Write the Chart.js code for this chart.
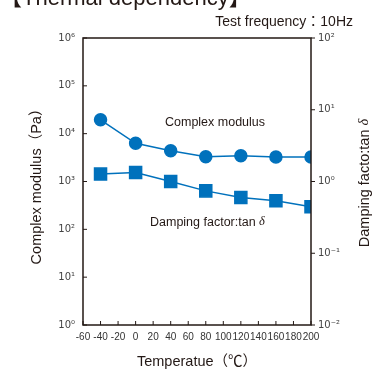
<!DOCTYPE html>
<html>
<head>
<meta charset="utf-8">
<script src="https://cdn.jsdelivr.net/npm/chart.js@4.4.1/dist/chart.umd.min.js"></script>
<style>
  html, body { margin:0; padding:0; background:#fff; }
  #wrap { width:374px; height:372px; }
</style>
</head>
<body>
<div id="wrap"><canvas id="c"></canvas></div>
<script>
// Temperature (°C)
const temps = [-40, 0, 40, 80, 120, 160, 200];
// Complex modulus (Pa), left axis
const modulus = [19500, 6300, 4400, 3300, 3450, 3250, 3250];
// Damping factor tan δ, right axis
const tanDelta = [1.27, 1.33, 1.0, 0.74, 0.60, 0.54, 0.445];

const xTicks = [-60, -40, -20, 0, 20, 40, 60, 80, 100, 120, 140, 160, 180, 200];
const leftTicks = [1, 10, 100, 1e3, 1e4, 1e5, 1e6];
const rightTicks = [0.01, 0.1, 1, 10, 100];

const BLUE = '#0071bc';
const INK = '#231815';
const SUP = {'0':'⁰','1':'¹','2':'²','3':'³','4':'⁴','5':'⁵','6':'⁶','-':'⁻'};
const pow10 = v => '10' + String(Math.round(Math.log10(v))).split('').map(c => SUP[c]).join('');

// frame, tick marks and free text
const decor = {
  id: 'decor',
  afterDraw(chart) {
    const { ctx, chartArea: a, scales } = chart;
    ctx.save();
    ctx.strokeStyle = INK;
    ctx.lineWidth = 1.5;
    ctx.strokeRect(a.left, a.top, a.right - a.left, a.bottom - a.top);
    ctx.lineWidth = 1;
    ctx.beginPath();
    xTicks.forEach(t => { const x = scales.x.getPixelForValue(t); ctx.moveTo(x, a.bottom); ctx.lineTo(x, a.bottom - 4); });
    leftTicks.forEach(t => { const y = scales.y.getPixelForValue(t); ctx.moveTo(a.left, y); ctx.lineTo(a.left + 4, y); });
    rightTicks.forEach(t => { const y = scales.y2.getPixelForValue(t); ctx.moveTo(a.right, y); ctx.lineTo(a.right + 4, y); });
    ctx.stroke();

    ctx.fillStyle = INK;
    ctx.textBaseline = 'alphabetic';
    ctx.font = '22px "Liberation Sans", "Noto Sans CJK JP", sans-serif';
    ctx.textAlign = 'left';
    ctx.fillText('【Thermal dependency】', 0, 5);

    ctx.font = '14px "Liberation Sans", "Noto Sans CJK JP", sans-serif';
    ctx.textAlign = 'right';
    ctx.textBaseline = 'middle';
    ctx.fillText('Test frequency：10Hz', 353, 22);

    ctx.font = '12.5px "Liberation Sans", sans-serif';
    ctx.textAlign = 'left';
    ctx.fillText('Complex modulus', 165, 123);
    const dl = 'Damping factor:tan ';
    ctx.fillText(dl, 150, 223);
    const dw = ctx.measureText(dl).width;
    ctx.font = 'italic 12.5px "Liberation Serif", serif';
    ctx.fillText('δ', 150 + dw, 222);

    ctx.font = '14.5px "Liberation Sans", "Noto Sans CJK JP", sans-serif';
    ctx.textAlign = 'center';
    ctx.fillText('Temperatue（℃）', 197, 362);

    ctx.save();
    ctx.translate(37, 183);
    ctx.rotate(-Math.PI / 2);
    ctx.fillText('Complex modulus（Pa）', 0, 0);
    ctx.restore();

    ctx.save();
    ctx.translate(365, 183);
    ctx.rotate(-Math.PI / 2);
    const rl = 'Damping facto:tan ';
    ctx.font = '14.5px "Liberation Sans", sans-serif';
    const rw = ctx.measureText(rl).width;
    ctx.font = 'italic 14.5px "Liberation Serif", serif';
    const dw2 = ctx.measureText('δ').width;
    ctx.textAlign = 'left';
    ctx.font = '14.5px "Liberation Sans", sans-serif';
    ctx.fillText(rl, -(rw + dw2) / 2, 0);
    ctx.font = 'italic 14.5px "Liberation Serif", serif';
    ctx.fillText('δ', -(rw + dw2) / 2 + rw, -1);
    ctx.restore();
    ctx.restore();
  }
};

new Chart(document.getElementById('c'), {
  type: 'line',
  data: {
    datasets: [
      { label: 'Complex modulus', data: temps.map((t, i) => ({ x: t, y: modulus[i] })), yAxisID: 'y',
        borderColor: BLUE, backgroundColor: BLUE, borderWidth: 1.5, pointStyle: 'circle', pointRadius: 6 },
      { label: 'Damping factor', data: temps.map((t, i) => ({ x: t, y: tanDelta[i] })), yAxisID: 'y2',
        borderColor: BLUE, backgroundColor: BLUE, borderWidth: 1.5, pointStyle: 'rect', pointRadius: 8.5 }
    ]
  },
  options: {
    responsive: true, maintainAspectRatio: false, animation: false,
    layout: { padding: { top: 38, left: 0, right: 0, bottom: 0 } },
    plugins: { legend: { display: false }, tooltip: { enabled: false } },
    elements: { line: { tension: 0 } },
    scales: {
      x: {
        type: 'linear', min: -60, max: 200,
        afterBuildTicks: s => { s.ticks = xTicks.map(v => ({ value: v })); },
        afterFit: s => { s.height = 47; },
        grid: { display: false, drawTicks: false }, border: { display: false },
        ticks: { padding: 6, maxRotation: 0, autoSkip: false, color: '#333',
          font: { family: '"Liberation Sans Narrow", "Liberation Sans", sans-serif', size: 10 } }
      },
      y: {
        type: 'logarithmic', position: 'left', min: 1, max: 1e6,
        afterBuildTicks: s => { s.ticks = leftTicks.map(v => ({ value: v })); },
        afterFit: s => { s.width = 83; },
        grid: { display: false, drawTicks: false }, border: { display: false },
        ticks: { padding: 8, color: '#444', callback: v => pow10(v),
          font: { family: '"Liberation Sans Narrow", "DejaVu Sans", sans-serif', size: 10 } }
      },
      y2: {
        type: 'logarithmic', position: 'right', min: 0.01, max: 100,
        afterBuildTicks: s => { s.ticks = rightTicks.map(v => ({ value: v })); },
        afterFit: s => { s.width = 63; },
        grid: { display: false, drawTicks: false }, border: { display: false },
        ticks: { padding: 7, color: '#444', callback: v => pow10(v),
          font: { family: '"Liberation Sans Narrow", "DejaVu Sans", sans-serif', size: 10 } }
      }
    }
  },
  plugins: [decor]
});
</script>
</body>
</html>
